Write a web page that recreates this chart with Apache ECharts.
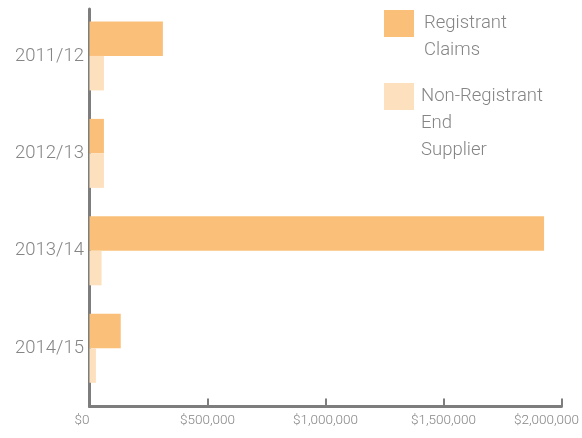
<!DOCTYPE html>
<html>
<head>
<meta charset="utf-8">
<script src="https://cdn.jsdelivr.net/npm/echarts@6/dist/echarts.min.js"></script>
<style>
  html, body { margin: 0; padding: 0; background: #fff; }
  #chart { width: 582px; height: 438px; }
</style>
</head>
<body>
<div id="chart"></div>
<script>
// data
const years = ['2011/12', '2012/13', '2013/14', '2014/15'];
const registrantClaims = [310000, 61000, 1920000, 132000];
const nonRegistrant = [61000, 61000, 51000, 27000];
const xTickValues = [0, 500000, 1000000, 1500000, 2000000];

const FONT = 'Roboto, "DejaVu Sans Condensed", sans-serif';
const GREY = '#858585';
const AXIS = '#7d7d7d';
const LINE_H = 27;

const chart = echarts.init(document.getElementById('chart'), null, { renderer: 'canvas' });

function money(v) {
    return '$' + v.toLocaleString('en-US');
}

// leading blank lines keep the first text line level with the swatch
function legendBlock(lines) {
    return '\n'.repeat(lines.length - 1) + lines.join('\n');
}

const option = {
    animation: false,
    backgroundColor: '#fff',
    legend: [
        {
            data: ['Registrant Claims'],
            orient: 'vertical',
            left: 384,
            top: 10 - LINE_H,
            padding: 0,
            itemWidth: 30,
            itemHeight: 27,
            icon: 'rect',
            formatter: () => legendBlock(['Registrant', 'Claims']),
            textStyle: {
                fontFamily: FONT, fontWeight: 300, fontSize: 18.5, color: GREY,
                lineHeight: LINE_H, padding: [0, 0, 0, 5]
            }
        },
        {
            data: ['Non-Registrant End Supplier'],
            orient: 'vertical',
            left: 384,
            top: 83 - LINE_H * 2,
            padding: 0,
            itemWidth: 30,
            itemHeight: 27,
            icon: 'rect',
            formatter: () => legendBlock(['Non-Registrant', 'End', 'Supplier']),
            textStyle: {
                fontFamily: FONT, fontWeight: 300, fontSize: 18.5, color: GREY,
                lineHeight: LINE_H, padding: [0, 0, 0, 2]
            }
        }
    ],
    grid: [
        // bars + category labels
        { left: 89.5, right: 19, top: 7.2, height: 389.8 },
        // visible axes frame
        { left: 89.5, right: 19, top: 9, bottom: 31.5 }
    ],
    xAxis: [
        {
            gridIndex: 0, type: 'value', min: 0, max: 2000000, show: false
        },
        {
            gridIndex: 1, type: 'value', min: 0, max: 2000000, interval: 500000,
            axisLine: { show: true, lineStyle: { color: AXIS, width: 3 } },
            axisTick: { show: true, inside: true, length: 8, lineStyle: { color: AXIS, width: 2 } },
            splitLine: { show: false },
            axisLabel: {
                margin: 7,
                fontFamily: FONT, fontWeight: 300, fontSize: 13.5, color: GREY,
                alignMinLabel: 'right',
                formatter: v => v === xTickValues[xTickValues.length - 1] ? '{m|' + money(v) + '}' : money(v),
                rich: {
                    m: { fontFamily: FONT, fontWeight: 300, fontSize: 13.5, color: GREY, padding: [0, 30, 0, 0] }
                }
            }
        }
    ],
    yAxis: [
        {
            gridIndex: 0, type: 'category', data: years, inverse: true,
            axisLine: { show: false },
            axisTick: { show: false },
            splitLine: { show: false },
            axisLabel: { margin: 5.5, fontFamily: FONT, fontWeight: 300, fontSize: 18.5, color: GREY }
        },
        {
            gridIndex: 1, type: 'category', data: years, inverse: true,
            axisLine: { show: true, lineStyle: { color: AXIS, width: 3 } },
            axisTick: { show: false },
            axisLabel: { show: false },
            splitLine: { show: false }
        }
    ],
    series: [
        {
            name: 'Registrant Claims',
            type: 'bar',
            xAxisIndex: 0, yAxisIndex: 0,
            data: registrantClaims,
            barWidth: 34.5,
            barGap: '0%',
            itemStyle: { color: '#fac07a' }
        },
        {
            name: 'Non-Registrant End Supplier',
            type: 'bar',
            xAxisIndex: 0, yAxisIndex: 0,
            data: nonRegistrant,
            barWidth: 34.5,
            barGap: '0%',
            itemStyle: { color: '#fde0bd' }
        }
    ]
};

chart.setOption(option);
</script>
</body>
</html>
